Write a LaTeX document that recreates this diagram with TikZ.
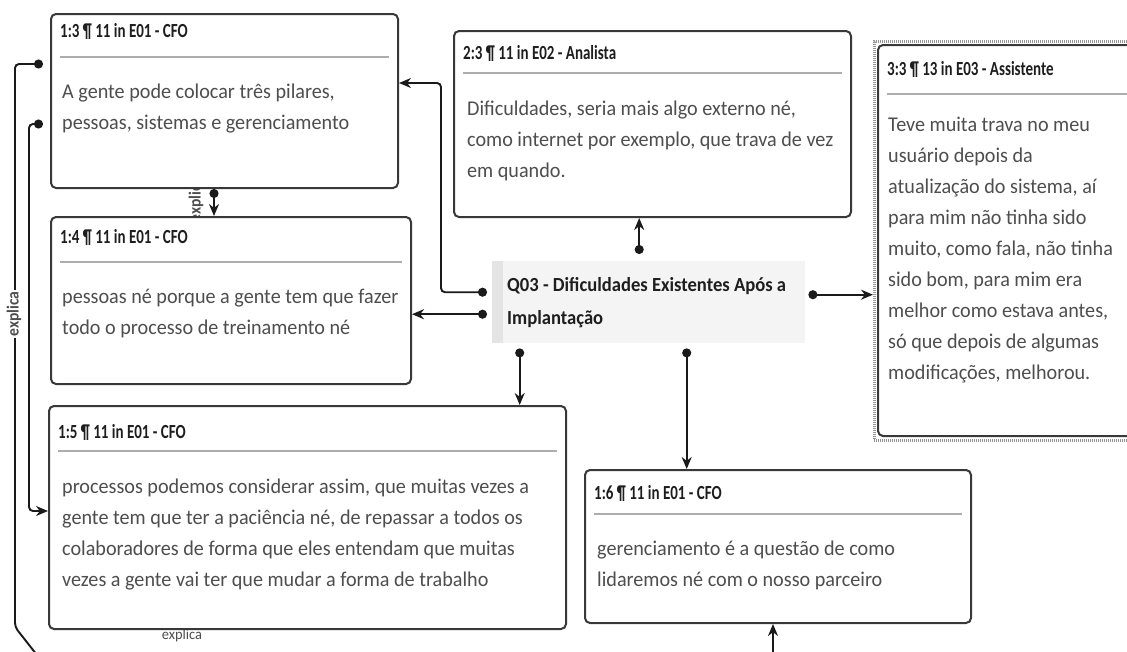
\documentclass[tikz,border=0pt]{standalone}
\usepackage{fontspec}
\setmainfont{Carlito}
\newfontfamily\bodyfont{Carlito}[FakeStretch=0.96]
\newfontfamily\hdrfont{Carlito}[FakeStretch=0.75]
\newfontfamily\qfont{Carlito}[FakeStretch=0.93]
\newfontfamily\lblfont{Carlito}[FakeStretch=0.92]
\usetikzlibrary{arrows.meta,calc}
\definecolor{boxline}{HTML}{383838}
\definecolor{sepline}{HTML}{ADADAD}
\definecolor{bodytxt}{HTML}{4E4E4E}
\definecolor{hdrtxt}{HTML}{1E1E1E}
\definecolor{connline}{HTML}{1A1A1A}
\definecolor{qfill}{HTML}{F4F4F4}
\definecolor{qstripe}{HTML}{E4E4E4}
\newcommand\txtblock[1]{\begin{tabular}[t]{@{}l@{}}#1\end{tabular}}
\tikzset{
  box/.style={draw=boxline, line width=2pt, rounded corners=5pt, fill=white, inner sep=0pt, anchor=north west},
  hdr/.style={anchor=base west, inner sep=0pt, text=hdrtxt, font=\hdrfont\bfseries\fontsize{20}{22}\selectfont},
  body/.style={anchor=base west, inner sep=0pt, text=bodytxt, font=\bodyfont\fontsize{21}{31}\selectfont},
  sep/.style={draw=sepline, line width=1.8pt},
  conn/.style={draw=connline, line width=1.9pt, rounded corners=4pt},
  dotarrow/.style={conn, {Circle[length=9pt]}-{Stealth[length=12pt,width=10pt]}},
  lbl/.style={inner sep=1pt, text=bodytxt, font=\lblfont\bfseries\fontsize{17}{19}\selectfont},
}
\begin{document}
\begin{tikzpicture}[x=1pt,y=-1pt]
\useasboundingbox[fill=white] (0,0) rectangle (1127,651);

% hidden link labels (partly covered by boxes)
\node[lbl, rotate=90] (lblmid) at (196,200) {explica};
\node[lbl, font=\bodyfont\fontsize{15}{17}\selectfont] (lblbot) at (182,635) {explica};

% boxes (geometry)
\node[box, minimum width=347pt, minimum height=174pt] (b13) at (50,13) {};
\node[box, minimum width=360pt, minimum height=167pt] (b14) at (50,216) {};
\node[box, minimum width=517pt, minimum height=223pt] (b15) at (48,405) {};
\node[box, minimum width=386pt, minimum height=153pt] (b16) at (584,469) {};
\node[box, minimum width=397pt, minimum height=186pt] (b23) at (453,30) {};
\node[draw=gray!85, dash pattern=on 1pt off 1pt, line width=2.6pt, inner sep=0pt, anchor=north west,
      minimum width=270pt, minimum height=399pt] (b33o) at (873,40) {};
\node[box, minimum width=265pt, minimum height=391pt] (b33) at (877,44) {};
\node[fill=qfill, inner sep=0pt, anchor=north west, minimum width=313pt, minimum height=82pt] (q) at (492,261) {};
\fill[qstripe] (q.north west) rectangle ([xshift=11pt]q.south west);

% connectors
\draw[dotarrow] ([xshift=-5pt,yshift=10pt]q.west) -- ++(-46,0) |- ([yshift=18pt]b13.east);
\draw[dotarrow] ([xshift=-5pt,yshift=-12pt]q.west) -- ([yshift=-12pt]q.west -| b14.east);
\draw[dotarrow] ([xshift=-9.5pt,yshift=7pt]q.north) -- ([xshift=-9.5pt]q.north |- b23.south);
\draw[dotarrow] ([xshift=3pt,yshift=7.5pt]q.east) -- ([yshift=7.5pt]q.east -| b33o.west);
\draw[dotarrow] ([xshift=-129pt,yshift=-5pt]q.south) -- ([xshift=-129pt]q.south |- b15.north);
\draw[dotarrow] ([xshift=38pt,yshift=-5pt]q.south) -- ([xshift=38pt]q.south |- b16.north);
\draw[dotarrow] ([xshift=-10.5pt]b13.south) -- ([xshift=-10.5pt]b13.south |- b14.north);
\draw[dotarrow] ([xshift=-7pt,yshift=37pt]b13.west) -- ++(-28,0) -- ++(0,563) -- ++(40,51) -| ([xshift=-5pt]b16.south);
\draw[dotarrow] ([xshift=-7pt,yshift=-23pt]b13.west) -- ++(-14,0) |- ([yshift=-106pt]b15.north west);

% visible link label on the left
\node[lbl, rotate=90, fill=white] (lblleft) at (14,314) {explica};

% box contents
\node[hdr] (h13) at ([xshift=10pt,yshift=-24pt]b13.north west) {1:3 ¶ 11 in E01 - CFO};
\draw[sep] ([xshift=10pt,yshift=-44pt]b13.north west) -- ([xshift=-10pt,yshift=-44pt]b13.north east);
\node[body] (t13) at ([xshift=12pt,yshift=-85pt]b13.north west) {\txtblock{A gente pode colocar três pilares,\\ pessoas, sistemas e gerenciamento}};

\node[hdr] (h14) at ([xshift=10pt,yshift=-27pt]b14.north west) {1:4 ¶ 11 in E01 - CFO};
\draw[sep] ([xshift=10pt,yshift=-46pt]b14.north west) -- ([xshift=-10pt,yshift=-46pt]b14.north east);
\node[body] (t14) at ([xshift=12pt,yshift=-87pt]b14.north west) {\txtblock{pessoas né porque a gente tem que fazer\\ todo o processo de treinamento né}};

\node[hdr] (h15) at ([xshift=10pt,yshift=-33pt]b15.north west) {1:5 ¶ 11 in E01 - CFO};
\draw[sep] ([xshift=10pt,yshift=-46pt]b15.north west) -- ([xshift=-10pt,yshift=-46pt]b15.north east);
\node[body] (t15) at ([xshift=14pt,yshift=-88pt]b15.north west) {\txtblock{processos podemos considerar assim, que muitas vezes a\\ gente tem que ter a paciência né, de repassar a todos os\\ colaboradores de forma que eles entendam que muitas\\ vezes a gente vai ter que mudar a forma de trabalho}};

\node[hdr] (h16) at ([xshift=10pt,yshift=-30pt]b16.north west) {1:6 ¶ 11 in E01 - CFO};
\draw[sep] ([xshift=10pt,yshift=-45pt]b16.north west) -- ([xshift=-10pt,yshift=-45pt]b16.north east);
\node[body] (t16) at ([xshift=13pt,yshift=-86pt]b16.north west) {\txtblock{gerenciamento é a questão de como\\ lidaremos né com o nosso parceiro}};

\node[hdr] (h23) at ([xshift=10pt,yshift=-29pt]b23.north west) {2:3 ¶ 11 in E02 - Analista};
\draw[sep] ([xshift=10pt,yshift=-43pt]b23.north west) -- ([xshift=-10pt,yshift=-43pt]b23.north east);
\node[body] (t23) at ([xshift=14pt,yshift=-85pt]b23.north west) {\txtblock{Dificuldades, seria mais algo externo né,\\ como internet por exemplo, que trava de vez\\ em quando.}};

\node[hdr] (h33) at ([xshift=10pt,yshift=-31pt]b33.north west) {3:3 ¶ 13 in E03 - Assistente};
\draw[sep] ([xshift=10pt,yshift=-50pt]b33.north west) -- ([xshift=-10pt,yshift=-50pt]b33.north east);
\node[body] (t33) at ([xshift=11pt,yshift=-87pt]b33.north west) {\txtblock{Teve muita trava no meu\\ usuário depois da\\ atualização do sistema, aí\\ para mim não tinha sido\\ muito, como fala, não tinha\\ sido bom, para mim era\\ melhor como estava antes,\\ só que depois de algumas\\ modificações, melhorou.}};

\node[anchor=base west, inner sep=0pt, text=hdrtxt, font=\qfont\bfseries\fontsize{20}{33}\selectfont] (tq) at ([xshift=15pt,yshift=-30pt]q.north west) {\txtblock{Q03 - Dificuldades Existentes Após a\\ Implantação}};
\end{tikzpicture}
\end{document}
